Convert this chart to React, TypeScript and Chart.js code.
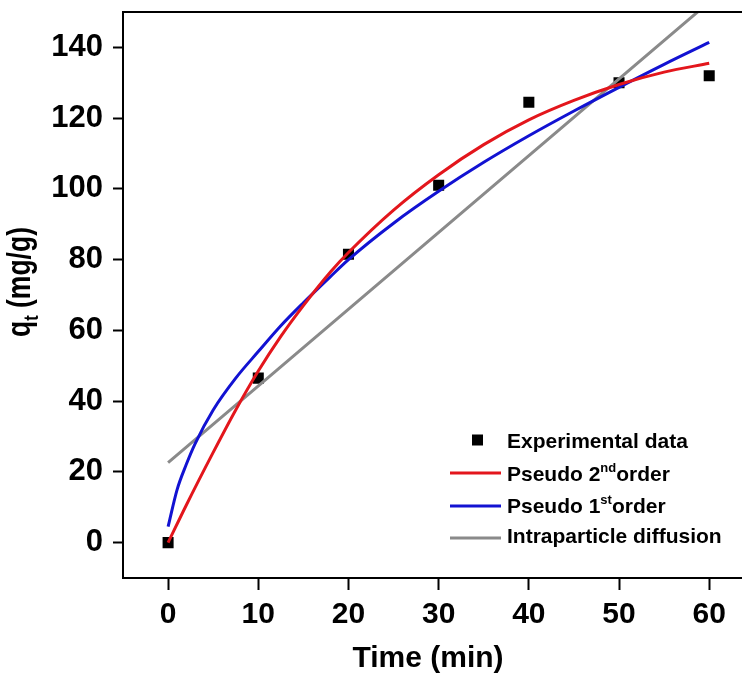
import React, { useEffect, useRef } from 'react';
import { Chart, registerables } from 'chart.js';

Chart.register(...registerables);

// Experimental data
const TIME_EXP = [0, 10, 20, 30, 40, 50, 60];
const Q_EXP = [0, 46.5, 81.5, 101, 124.5, 130, 132];

// Pseudo 2nd order fit
const TIME_PSO = [0, 2, 5, 7.5, 10, 12.5, 15, 18, 20, 25, 30, 35, 40, 45, 50, 55, 60];
const Q_PSO = [0, 10.5, 25.5, 37.5, 48.5, 58.3, 67, 76.5, 82, 94, 104, 112.5, 119.5, 125, 129.5, 133, 135.5];

// Pseudo 1st order fit
const TIME_PFO = [0, 1, 2, 3, 5, 7.5, 10, 12.5, 15, 18, 20, 25, 30, 35, 40, 45, 50, 55, 60];
const Q_PFO = [4.5, 15, 22, 28, 37.5, 46.5, 54, 61.3, 67.8, 75.2, 80, 90.3, 99.3, 107.5, 115, 122, 128.7, 135.2, 141.4];

// Intraparticle diffusion (straight line)
const TIME_IPD = [0, 60];
const Q_IPD = [22.6, 152.8];

const X_TICKS = [0, 10, 20, 30, 40, 50, 60];
const Y_TICKS = [0, 20, 40, 60, 80, 100, 120, 140];

const X_TITLE = 'Time (min)';
const Y_TITLE_MAIN = 'q';
const Y_TITLE_SUB = 't';
const Y_TITLE_REST = ' (mg/g)';

const RED = '#e3161c';
const BLUE = '#1212d2';
const GRAY = '#8a8a8a';

const LEGEND = [
  { kind: 'square', color: '#000', main: 'Experimental data', sup: '', rest: '' },
  { kind: 'line', color: RED, main: 'Pseudo 2', sup: 'nd', rest: 'order' },
  { kind: 'line', color: BLUE, main: 'Pseudo 1', sup: 'st', rest: 'order' },
  { kind: 'line', color: GRAY, main: 'Intraparticle diffusion', sup: '', rest: '' },
];

const FONT = '"Liberation Sans", Arial, sans-serif';

const toPts = (xs: number[], ys: number[]) => xs.map((x, i) => ({ x, y: ys[i] }));

const overlay = {
  id: 'overlay',
  afterDraw(chart: any) {
    const { ctx, chartArea: a, width } = chart;
    ctx.save();
    // frame: top border and bottom axis line run to the right edge of the picture
    ctx.strokeStyle = '#000';
    ctx.lineWidth = 2;
    ctx.beginPath();
    ctx.moveTo(a.left - 1, a.top);
    ctx.lineTo(width, a.top);
    ctx.moveTo(a.right - 1, a.bottom);
    ctx.lineTo(width, a.bottom);
    ctx.stroke();

    ctx.fillStyle = '#000';
    // x title
    ctx.font = `bold 30px ${FONT}`;
    ctx.textAlign = 'center';
    ctx.textBaseline = 'alphabetic';
    ctx.fillText(X_TITLE, 428, 667);

    // y title with subscript, rotated
    ctx.save();
    ctx.translate(30, 282);
    ctx.rotate(-Math.PI / 2);
    ctx.scale(0.78, 1);
    const big = `bold 34px ${FONT}`;
    const small = `bold 21px ${FONT}`;
    ctx.font = big;
    const wq = ctx.measureText(Y_TITLE_MAIN).width;
    const wr = ctx.measureText(Y_TITLE_REST).width;
    ctx.font = small;
    const wt = ctx.measureText(Y_TITLE_SUB).width;
    const total = wq + wt + wr;
    let x0 = -total / 2;
    ctx.textAlign = 'left';
    ctx.font = big;
    ctx.fillText(Y_TITLE_MAIN, x0, 0);
    x0 += wq;
    ctx.font = small;
    ctx.fillText(Y_TITLE_SUB, x0, 8);
    x0 += wt;
    ctx.font = big;
    ctx.fillText(Y_TITLE_REST, x0, 0);
    ctx.restore();

    // legend
    const baselines = [448, 481, 513, 543];
    const centers = [440, 473, 506, 538];
    LEGEND.forEach((item, i) => {
      const cy = centers[i];
      if (item.kind === 'square') {
        ctx.fillStyle = '#000';
        ctx.fillRect(472, cy - 5.5, 11, 11);
      } else {
        ctx.strokeStyle = item.color;
        ctx.lineWidth = 3;
        ctx.beginPath();
        ctx.moveTo(450, cy);
        ctx.lineTo(501, cy);
        ctx.stroke();
      }
      ctx.fillStyle = '#000';
      ctx.textAlign = 'left';
      let x = 507;
      const by = baselines[i];
      ctx.font = `bold 21px ${FONT}`;
      ctx.fillText(item.main, x, by);
      x += ctx.measureText(item.main).width;
      if (item.sup) {
        ctx.font = `bold 13px ${FONT}`;
        ctx.fillText(item.sup, x, by - 9);
        x += ctx.measureText(item.sup).width;
        ctx.font = `bold 21px ${FONT}`;
        ctx.fillText(item.rest, x, by);
      }
    });
    ctx.restore();
  },
};

export default function App() {
  const ref = useRef<HTMLCanvasElement | null>(null);

  useEffect(() => {
    if (!ref.current) return;
    const lineDs = (label: string, xs: number[], ys: number[], color: string, order: number) => ({
      label,
      data: toPts(xs, ys),
      showLine: true,
      borderColor: color,
      backgroundColor: color,
      borderWidth: 3,
      pointRadius: 0,
      pointHoverRadius: 0,
      cubicInterpolationMode: 'monotone' as const,
      order,
    });
    const chart = new Chart(ref.current, {
      type: 'scatter',
      data: {
        datasets: [
          {
            label: 'Experimental data',
            data: toPts(TIME_EXP, Q_EXP),
            pointStyle: 'rect',
            pointRadius: 7.8,
            backgroundColor: '#000',
            borderColor: '#000',
            borderWidth: 0,
            showLine: false,
            order: 5,
          },
          lineDs('Intraparticle diffusion', TIME_IPD, Q_IPD, GRAY, 3),
          lineDs('Pseudo 1st order', TIME_PFO, Q_PFO, BLUE, 2),
          lineDs('Pseudo 2nd order', TIME_PSO, Q_PSO, RED, 1),
        ],
      },
      options: {
        responsive: false,
        animation: false,
        devicePixelRatio: 1,
        layout: { padding: { top: 12, right: 0, left: 0, bottom: 0 } },
        plugins: {
          legend: { display: false },
          tooltip: { enabled: false },
        },
        scales: {
          x: {
            type: 'linear',
            min: -5,
            max: 62.77,
            afterBuildTicks: (s: any) => {
              s.ticks = X_TICKS.map((v) => ({ value: v }));
            },
            afterFit: (s: any) => {
              s.height = 96;
              s.paddingLeft = 0;
              s.paddingRight = 0;
            },
            grid: {
              drawOnChartArea: false,
              drawTicks: true,
              tickLength: 12,
              tickWidth: 2,
              tickColor: '#000',
            },
            border: { display: true, color: '#000', width: 2 },
            ticks: {
              color: '#000',
              padding: 7,
              maxRotation: 0,
              font: { family: FONT, size: 30, weight: 'bold' },
            },
          },
          y: {
            type: 'linear',
            min: -10,
            max: 150,
            afterBuildTicks: (s: any) => {
              s.ticks = Y_TICKS.map((v) => ({ value: v }));
            },
            afterFit: (s: any) => {
              s.width = 123;
              s.paddingTop = 0;
              s.paddingBottom = 0;
            },
            grid: {
              drawOnChartArea: false,
              drawTicks: true,
              tickLength: 10,
              tickWidth: 2,
              tickColor: '#000',
            },
            border: { display: true, color: '#000', width: 2 },
            ticks: {
              color: '#000',
              padding: 10,
              font: { family: FONT, size: 31, weight: 'bold' },
            },
          },
        },
      },
      plugins: [overlay],
    } as any);
    return () => chart.destroy();
  }, []);

  return (
    <div style={{ position: 'fixed', left: 0, top: 0, width: 742, height: 674, background: '#fff' }}>
      <canvas ref={ref} width={742} height={674} style={{ display: 'block' }} />
    </div>
  );
}
